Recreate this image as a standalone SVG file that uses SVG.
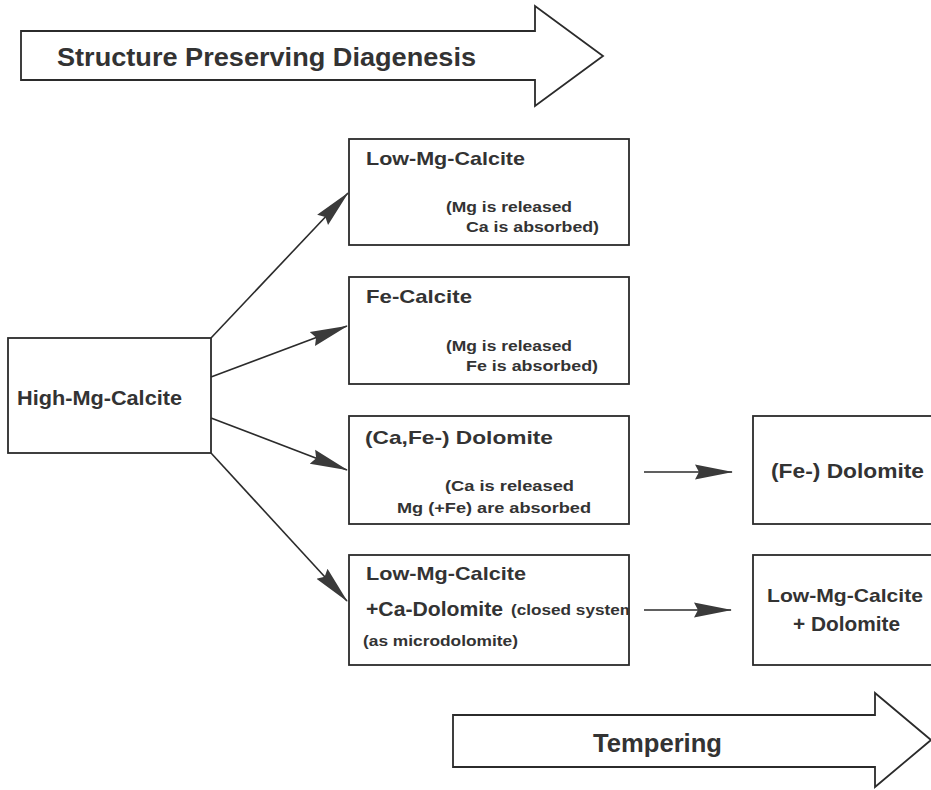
<svg xmlns="http://www.w3.org/2000/svg" width="931" height="790" viewBox="0 0 931 790">
  <style>
    .box { fill: #ffffff; stroke: #2b2b2b; stroke-width: 1.8; }
    .big { fill: #ffffff; stroke: #2b2b2b; stroke-width: 1.8; stroke-linejoin: miter; }
    .conn { fill: none; stroke: #2b2b2b; stroke-width: 1.6; }
    text { font-family: "Liberation Sans", Arial, sans-serif; font-weight: bold; fill: #333333; }
    .t26 { font-size: 26px; }
    .t20 { font-size: 20px; }
    .t19 { font-size: 19px; }
    .t21 { font-size: 21px; }
    .t15 { font-size: 15.5px; }
  </style>
  <defs>
    <marker id="ah" viewBox="0 -9 38 18" markerWidth="38" markerHeight="18" refX="37" refY="0" orient="auto" markerUnits="userSpaceOnUse">
      <path d="M0,-7.5 L38,0 L0,7.5 L4,0 Z" fill="#3a3a3a"/>
    </marker>
    <clipPath id="clip4">
      <rect x="349" y="555" width="280" height="110"/>
    </clipPath>
  </defs>
  <rect width="931" height="790" fill="#ffffff"/>

  <g id="arrow-diagenesis">
    <path class="big" d="M21,31 L535,31 L535,6 L603,56 L535,106 L535,80 L21,80 Z"/>
    <text class="t26" x="57" y="66" textLength="419" lengthAdjust="spacingAndGlyphs">Structure Preserving Diagenesis</text>
  </g>

  <g id="arrow-tempering">
    <path class="big" d="M453,715 L875,715 L875,693 L931,740 L875,787 L875,767 L453,767 Z"/>
    <text class="t26" x="593" y="752" textLength="129" lengthAdjust="spacingAndGlyphs">Tempering</text>
  </g>

  <g id="high-mg-calcite">
    <rect class="box" x="8" y="338" width="203" height="115"/>
    <text class="t20" x="17" y="405" textLength="165" lengthAdjust="spacingAndGlyphs">High-Mg-Calcite</text>
  </g>

  <g id="low-mg-calcite">
    <rect class="box" x="349" y="139" width="280" height="106"/>
    <text class="t19" x="366" y="165" textLength="159" lengthAdjust="spacingAndGlyphs">Low-Mg-Calcite</text>
    <text class="t15" x="446" y="212" textLength="126" lengthAdjust="spacingAndGlyphs">(Mg is released</text>
    <text class="t15" x="466" y="232" textLength="133" lengthAdjust="spacingAndGlyphs">Ca is absorbed)</text>
  </g>

  <g id="fe-calcite">
    <rect class="box" x="349" y="277" width="280" height="107"/>
    <text class="t19" x="366" y="303" textLength="106" lengthAdjust="spacingAndGlyphs">Fe-Calcite</text>
    <text class="t15" x="446" y="351" textLength="126" lengthAdjust="spacingAndGlyphs">(Mg is released</text>
    <text class="t15" x="466" y="371" textLength="132" lengthAdjust="spacingAndGlyphs">Fe is absorbed)</text>
  </g>

  <g id="ca-fe-dolomite">
    <rect class="box" x="349" y="416" width="280" height="108"/>
    <text class="t19" x="365" y="444" textLength="188" lengthAdjust="spacingAndGlyphs">(Ca,Fe-) Dolomite</text>
    <text class="t15" x="445" y="491" textLength="129" lengthAdjust="spacingAndGlyphs">(Ca is released</text>
    <text class="t15" x="397" y="513" textLength="194" lengthAdjust="spacingAndGlyphs">Mg (+Fe) are absorbed</text>
  </g>

  <g id="low-mg-calcite-ca-dolomite">
    <rect class="box" x="349" y="555" width="280" height="110"/>
    <text class="t19" x="366" y="580" textLength="160" lengthAdjust="spacingAndGlyphs">Low-Mg-Calcite</text>
    <text class="t21" x="366" y="616" textLength="137" lengthAdjust="spacingAndGlyphs">+Ca-Dolomite</text>
    <g clip-path="url(#clip4)">
      <text class="t15" x="511" y="615" textLength="124" lengthAdjust="spacingAndGlyphs">(closed system</text>
    </g>
    <text class="t15" x="363" y="646" textLength="155" lengthAdjust="spacingAndGlyphs">(as microdolomite)</text>
  </g>

  <g id="fe-dolomite">
    <rect class="box" x="753" y="416" width="200" height="108"/>
    <text class="t20" x="771" y="478" textLength="153" lengthAdjust="spacingAndGlyphs">(Fe-) Dolomite</text>
  </g>

  <g id="low-mg-calcite-dolomite">
    <rect class="box" x="753" y="555" width="200" height="110"/>
    <text class="t19" x="767" y="602" textLength="156" lengthAdjust="spacingAndGlyphs">Low-Mg-Calcite</text>
    <text class="t20" x="793" y="631" textLength="107" lengthAdjust="spacingAndGlyphs">+ Dolomite</text>
  </g>

  <g id="connectors">
    <line class="conn" x1="211" y1="338" x2="348" y2="193" marker-end="url(#ah)"/>
    <line class="conn" x1="211" y1="377" x2="347" y2="326" marker-end="url(#ah)"/>
    <line class="conn" x1="211" y1="418" x2="347" y2="470" marker-end="url(#ah)"/>
    <line class="conn" x1="211" y1="453" x2="347" y2="601" marker-end="url(#ah)"/>
    <line class="conn" x1="644" y1="472" x2="732" y2="472" marker-end="url(#ah)"/>
    <line class="conn" x1="644" y1="610" x2="731" y2="610" marker-end="url(#ah)"/>
  </g>
</svg>
